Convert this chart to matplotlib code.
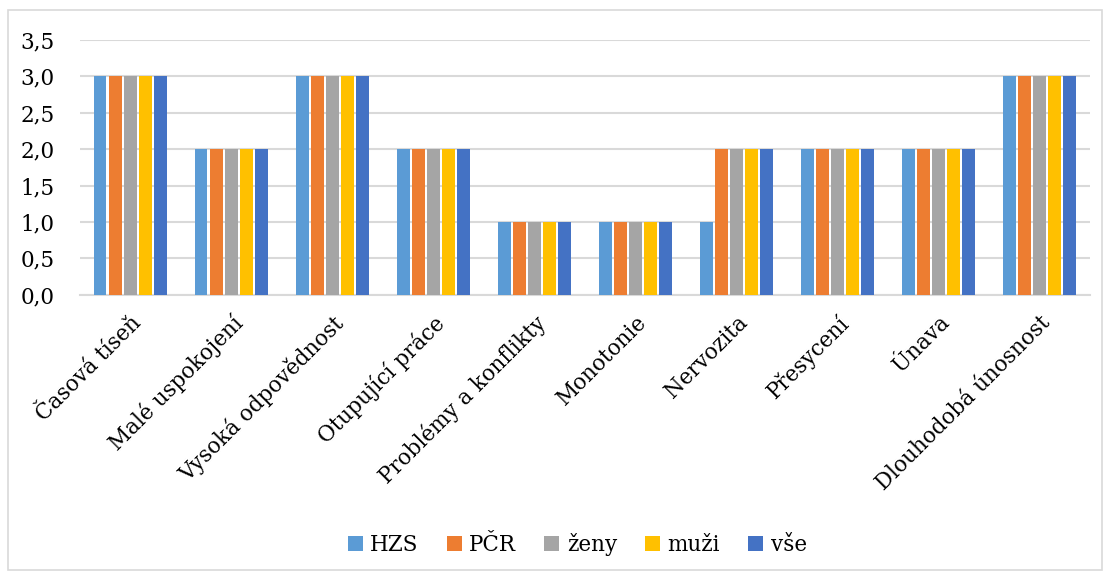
import numpy as np
import matplotlib.pyplot as plt
from matplotlib.patches import Rectangle

plt.rcParams['font.family'] = ['DejaVu Serif']

categories = ["Časová tíseň", "Malé uspokojení", "Vysoká odpovědnost",
              "Otupující práce", "Problémy a konflikty", "Monotonie",
              "Nervozita", "Přesycení", "Únava", "Dlouhodobá únosnost"]

hzs = [3, 2, 3, 2, 1, 1, 1, 2, 2, 3]
pcr = [3, 2, 3, 2, 1, 1, 2, 2, 2, 3]
zeny = [3, 2, 3, 2, 1, 1, 2, 2, 2, 3]
muzi = [3, 2, 3, 2, 1, 1, 2, 2, 2, 3]
vse = [3, 2, 3, 2, 1, 1, 2, 2, 2, 3]

series = [("HZS", hzs, "#5B9BD5"),
          ("PČR", pcr, "#ED7D31"),
          ("ženy", zeny, "#A5A5A5"),
          ("muži", muzi, "#FFC000"),
          ("vše", vse, "#4472C4")]

fig = plt.figure(figsize=(11.1, 5.77), dpi=100)
ax = fig.add_axes([0.072, 0.489, 0.910, 0.442])

x = np.arange(len(categories))
slot = 0.149
for i, (name, vals, col) in enumerate(series):
    ax.bar(x + (i - 2) * slot, vals, width=0.122, color=col, label=name, zorder=3)

ax.set_xlim(-0.5, len(categories) - 0.5)
ax.set_ylim(0, 3.5)
ticks = np.arange(0, 3.51, 0.5)
ax.set_yticks(ticks)
ax.set_yticklabels([f"{v:.1f}".replace(".", ",") for v in ticks], fontsize=15.5)
ax.set_xticks(x)
ax.set_xticklabels(categories, rotation=45, ha='right', va='top',
                   rotation_mode='anchor', fontsize=15.5)
ax.tick_params(axis='y', length=0, pad=18)
ax.tick_params(axis='x', length=0, pad=12)
ax.grid(axis='y', color='#D9D9D9', linewidth=1.5, zorder=0)
for s in ['top', 'right', 'left']:
    ax.spines[s].set_visible(False)
ax.spines['bottom'].set_color('#D9D9D9')
ax.spines['bottom'].set_linewidth(1.5)

fig.legend(loc='center', bbox_to_anchor=(0.52, 0.057), ncol=5, frameon=False,
           fontsize=15.5, handlelength=0.7, handleheight=0.7, handletextpad=0.35,
           columnspacing=1.3)

fig.patches.append(Rectangle((8 / 1110, 7 / 577), 1094 / 1110, 560 / 577,
                             transform=fig.transFigure, fill=False,
                             edgecolor='#D9D9D9', linewidth=1.2))

fig.savefig("out.png", dpi=100, facecolor='white')
